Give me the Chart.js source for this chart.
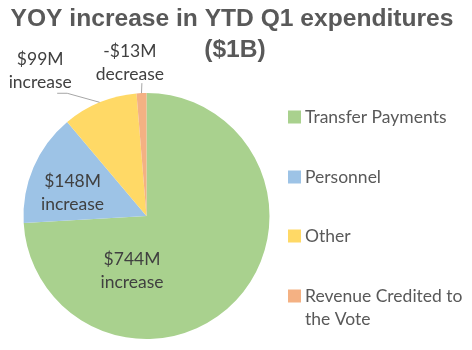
<!DOCTYPE html>
<html>
<head>
<meta charset="utf-8">
<script src="https://cdn.jsdelivr.net/npm/chart.js@4/dist/chart.umd.min.js"></script>
<style>
  html, body { margin: 0; padding: 0; background: #fff; }
  #wrap { width: 472px; height: 350px; position: relative; }
</style>
</head>
<body>
<div id="wrap"><canvas id="chart"></canvas></div>
<script>
// ── Data ──────────────────────────────────────────────────────────────────
const categories = ['Transfer Payments', 'Personnel', 'Other', 'Revenue Credited to the Vote'];
const legendLines = [['Transfer Payments'], ['Personnel'], ['Other'], ['Revenue Credited to', 'the Vote']];
const amounts    = [744, 148, 99, 13];
const sliceText  = [['$744M', 'increase'], ['$148M', 'increase'], ['$99M', 'increase'], ['-$13M', 'decrease']];
const titleLines = ['YOY increase in YTD Q1 expenditures', '($1B)'];

const colors = ['#A9D18E', '#9DC3E6', '#FFD966', '#F4B183'];

// label anchor: polar angle (deg, 0 = right, clockwise) and radius factor from pie centre
const labelPlace = [
    { a: 104.8, r: 0.46 },
    { a: 197.4, r: 0.63 },
    { a: -126.3, r: 1.46, leader: [[27, 22], [17, 22]] },
    { a: -96.2, r: 1.25, leader: [[12, 20]] }
];

const LABEL_FONT = '17.5px Lato';
const GRAY = '#595959';

// ── Plugins ───────────────────────────────────────────────────────────────
const titlePlugin = {
    id: 'titleText',
    afterDraw(chart) {
        const ctx = chart.ctx;
        ctx.save();
        ctx.fillStyle = GRAY;
        ctx.font = 'bold 24.6px "Liberation Sans", Arial';
        ctx.textAlign = 'center';
        ctx.textBaseline = 'middle';
        ctx.fillText(titleLines[0], 232, 19);
        ctx.fillText(titleLines[1], 235, 50);
        ctx.restore();
    }
};

const sliceLabels = {
    id: 'sliceLabels',
    afterDatasetsDraw(chart) {
        const ctx = chart.ctx;
        const arcs = chart.getDatasetMeta(0).data;
        ctx.save();
        arcs.forEach((arc, i) => {
            const { x, y, outerRadius, startAngle, endAngle } = arc.getProps(['x', 'y', 'outerRadius', 'startAngle', 'endAngle'], true);
            const p = labelPlace[i];
            const ang = p.a * Math.PI / 180;
            const lx = x + Math.cos(ang) * outerRadius * p.r;
            const ly = y + Math.sin(ang) * outerRadius * p.r;

            if (p.leader) {
                const mid = (startAngle + endAngle) / 2;
                ctx.strokeStyle = '#A6A6A6';
                ctx.lineWidth = 1;
                ctx.beginPath();
                ctx.moveTo(x + Math.cos(mid) * outerRadius, y + Math.sin(mid) * outerRadius);
                p.leader.forEach(([dx, dy]) => ctx.lineTo(lx + dx, ly + dy));
                ctx.stroke();
            }

            ctx.fillStyle = '#404040';
            ctx.font = LABEL_FONT;
            ctx.textAlign = 'center';
            ctx.textBaseline = 'middle';
            ctx.fillText(sliceText[i][0], lx, ly - 11.5);
            ctx.fillText(sliceText[i][1], lx, ly + 11.5);
        });
        ctx.restore();
    }
};

const sideLegend = {
    id: 'sideLegend',
    afterDraw(chart) {
        const ctx = chart.ctx;
        const rows = [117, 177, 236, 296];
        ctx.save();
        ctx.font = LABEL_FONT;
        ctx.textBaseline = 'middle';
        ctx.textAlign = 'left';
        rows.forEach((cy, i) => {
            ctx.fillStyle = chart.data.datasets[0].backgroundColor[i];
            ctx.fillRect(288, cy - 6.5, 13, 13);
            ctx.fillStyle = GRAY;
            legendLines[i].forEach((t, k) => ctx.fillText(t, 305, cy + k * 23));
        });
        ctx.restore();
    }
};

// ── Chart ─────────────────────────────────────────────────────────────────
new Chart(document.getElementById('chart'), {
    type: 'pie',
    data: {
        labels: categories,
        datasets: [{
            data: amounts,
            backgroundColor: colors,
            borderWidth: 0
        }]
    },
    options: {
        responsive: true,
        maintainAspectRatio: false,
        animation: false,
        rotation: 0,
        layout: { padding: { top: 93, bottom: 11, left: 23.5, right: 202.5 } },
        plugins: {
            legend:  { display: false },
            tooltip: { enabled: false }
        }
    },
    plugins: [titlePlugin, sliceLabels, sideLegend]
});
</script>
</body>
</html>
